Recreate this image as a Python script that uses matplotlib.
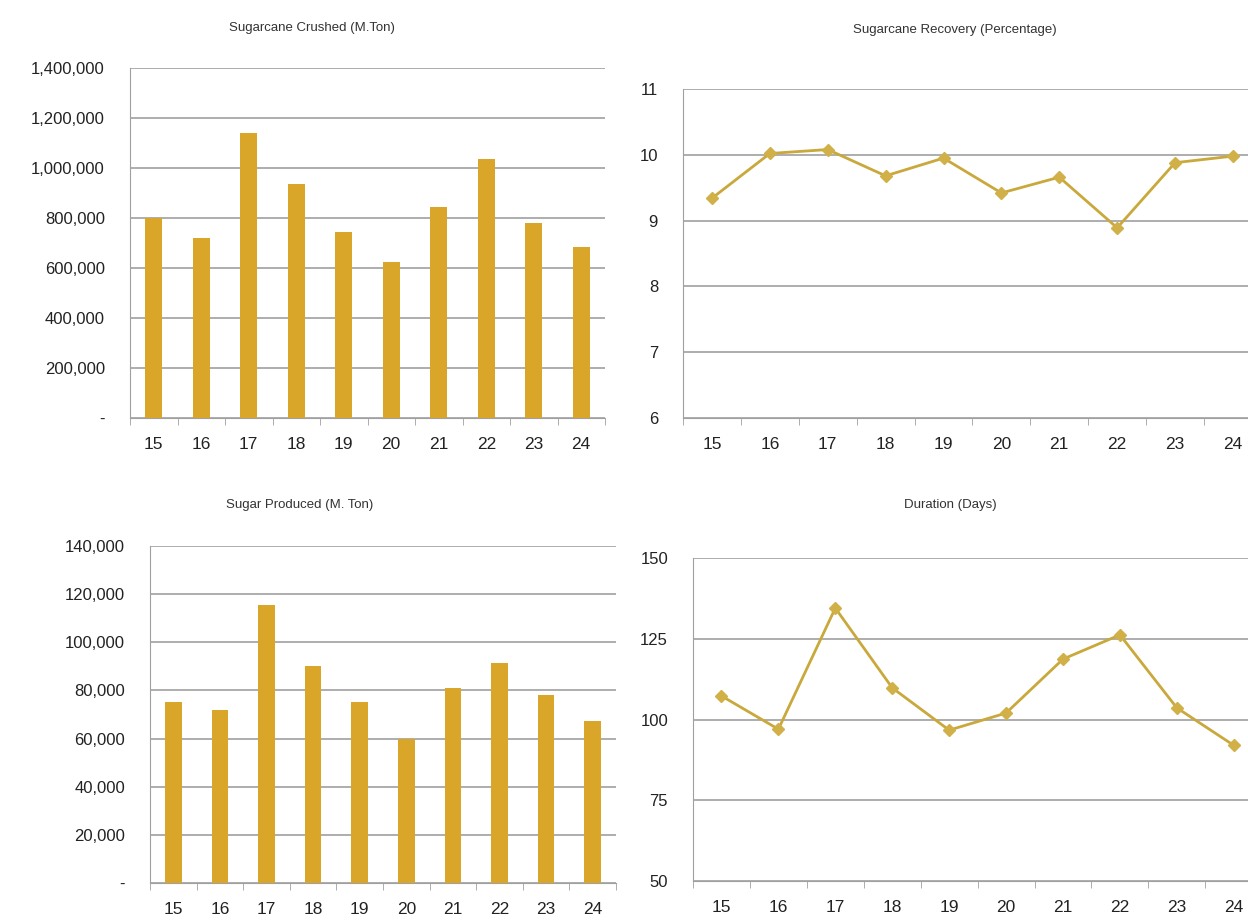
import matplotlib
matplotlib.use("Agg")
import matplotlib.pyplot as plt
from matplotlib.ticker import FuncFormatter, FixedLocator
import numpy as np

plt.rcParams['font.family'] = ['Liberation Sans', 'DejaVu Sans']

years = ["15", "16", "17", "18", "19", "20", "21", "22", "23", "24"]
cane_crushed = [800000, 720000, 1140000, 935000, 745000, 625000, 845000, 1035000, 780000, 685000]
recovery = [9.34, 10.02, 10.08, 9.68, 9.95, 9.42, 9.66, 8.89, 9.88, 9.98]
sugar_produced = [75000, 72000, 115500, 90000, 75000, 60000, 81000, 91500, 78000, 67500]
duration = [107.3, 97, 134.5, 109.8, 96.7, 102, 118.7, 126.2, 103.6, 92]

titles = ["Sugarcane Crushed (M.Ton)", "Sugarcane Recovery (Percentage)",
          "Sugar Produced (M. Ton)", "Duration (Days)"]

BAR = "#DAA62A"
LINE = "#C9A83C"
MARK = "#D2B048"
GRID = "#A0A0A0"

fig = plt.figure(figsize=(12.48, 9.24), dpi=100)

def comma0(v, p):
    if abs(v) < 1e-9:
        return "-"
    return f"{int(round(v)):,}"

def style(ax, x):
    for s in ["top", "right"]:
        ax.spines[s].set_visible(False)
    ax.spines["left"].set_color(GRID)
    ax.spines["bottom"].set_color(GRID)
    ax.yaxis.grid(True, color=GRID, linewidth=1.2)
    ax.set_axisbelow(True)
    ax.set_xticks(x)
    ax.set_xticklabels(years)
    ax.xaxis.set_minor_locator(FixedLocator(np.arange(-0.5, len(x) + 0.5, 1)))
    ax.tick_params(axis="x", which="major", length=0, pad=14, labelsize=12.5, colors="#222222")
    ax.tick_params(axis="x", which="minor", length=5, color=GRID, direction="out")
    ax.tick_params(axis="y", length=0, pad=18, labelsize=12, colors="#222222")

x = np.arange(len(years))

# Top-left: bars
ax1 = fig.add_axes([130/1248, 1-418/924, 475/1248, 350/924])
ax1.bar(x, cane_crushed, width=0.36, color=BAR, zorder=3)
ax1.set_ylim(0, 1400000)
ax1.set_yticks(np.arange(0, 1400001, 200000))
ax1.yaxis.set_major_formatter(FuncFormatter(comma0))
ax1.set_xlim(-0.5, 9.5)
style(ax1, x)

# Top-right: line
ax2 = fig.add_axes([683/1248, 1-418/924, 565/1248, 329/924])
ax2.plot(x, recovery, color=LINE, linewidth=2, marker="D", markersize=6,
         markerfacecolor=MARK, markeredgecolor=MARK, zorder=3)
ax2.set_ylim(6, 11)
ax2.set_yticks(np.arange(6, 12, 1))
ax2.set_xlim(-0.5, 9.26)
style(ax2, x)

# Bottom-left: bars
ax3 = fig.add_axes([150/1248, 1-883/924, 466/1248, 337/924])
ax3.bar(x, sugar_produced, width=0.36, color=BAR, zorder=3)
ax3.set_ylim(0, 140000)
ax3.set_yticks(np.arange(0, 140001, 20000))
ax3.yaxis.set_major_formatter(FuncFormatter(comma0))
ax3.set_xlim(-0.5, 9.5)
style(ax3, x)

# Bottom-right: line
ax4 = fig.add_axes([693/1248, 1-881/924, 555/1248, 323/924])
ax4.plot(x, duration, color=LINE, linewidth=2, marker="D", markersize=6,
         markerfacecolor=MARK, markeredgecolor=MARK, zorder=3)
ax4.set_ylim(50, 150)
ax4.set_yticks(np.arange(50, 151, 25))
ax4.set_xlim(-0.5, 9.25)
style(ax4, x)

fig.text(312/1248, 1-28/924, titles[0], ha="center", va="center", fontsize=9.5, color="#333333")
fig.text(955/1248, 1-30/924, titles[1], ha="center", va="center", fontsize=9.5, color="#333333")
fig.text(300/1248, 1-505/924, titles[2], ha="center", va="center", fontsize=9.5, color="#333333")
fig.text(950/1248, 1-505/924, titles[3], ha="center", va="center", fontsize=9.5, color="#333333")

fig.savefig("out.png", dpi=100)
